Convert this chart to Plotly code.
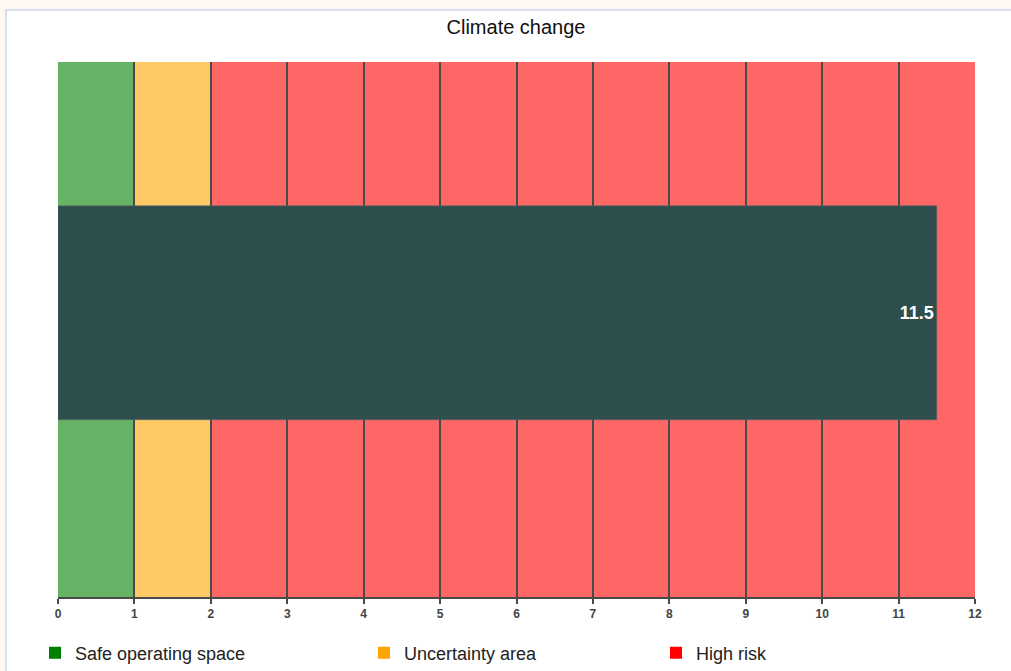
import plotly.graph_objects as go

# Data
title = "Climate change"
value = 11.5
value_label = "11.5"
band_names = ["Safe operating space", "Uncertainty area", "High risk"]
band_starts = [0, 1, 2]
band_ends = [1, 2, 12]
band_colors = ["rgba(0,128,0,0.6)", "rgba(255,165,0,0.6)", "rgba(255,0,0,0.6)"]
legend_colors = ["#008000", "#FFA500", "#FF0000"]
tick_values = list(range(0, 13))

W, H = 1011, 671
ml, mt = 58, 62
mr = W - 975
mb = H - 597
pw, ph = W - ml - mr, H - mt - mb

fig = go.Figure()

# Main value bar
fig.add_trace(go.Bar(
    x=[value], y=[0.531], base=[0], width=[0.4], orientation="h",
    marker=dict(color="#2f4f4f", line=dict(color="#5a6a6a", width=0.5)),
    text=[value_label], textposition="inside", insidetextanchor="end",
    textfont=dict(color="white", size=18, family="Liberation Sans, Arial", weight="bold"),
    showlegend=False, hoverinfo="x",
))

# Legend entries (separate legends placed at their own positions)
legend_x_px = [35, 364, 656]
legend_keys = ["legend", "legend2", "legend3"]
for name, col, key in zip(band_names, legend_colors, legend_keys):
    fig.add_trace(go.Scatter(
        x=[None], y=[None], mode="markers", name=name,
        marker=dict(symbol="square", size=12, color=col),
        legend=key, showlegend=True,
    ))

# Background bands (drawn below the grid lines)
shapes = []
for s, e, c in zip(band_starts, band_ends, band_colors):
    shapes.append(dict(type="rect", xref="x", yref="paper", x0=s, x1=e, y0=0, y1=1,
                       fillcolor=c, line=dict(width=0), layer="below"))
# Card background
card_x0 = (6 - ml) / pw
card_y1 = (H - mb - 10) / ph
shapes.insert(0, dict(type="rect", xref="paper", yref="paper", x0=card_x0, x1=1.2,
                      y0=-0.3, y1=card_y1, fillcolor="white",
                      line=dict(color="#c9d6ea", width=1.5), layer="below"))

leg_y = (H - mb - 653) / ph
legend_common = dict(orientation="h", yanchor="middle", xanchor="left", y=leg_y,
                     font=dict(size=18, color="#222", family="Liberation Sans, Arial"),
                     bgcolor="rgba(0,0,0,0)", itemclick=False)

fig.update_layout(
    width=W, height=H,
    margin=dict(l=ml, r=mr, t=mt, b=mb, autoexpand=False),
    paper_bgcolor="#fff8f0",
    plot_bgcolor="rgba(0,0,0,0)",
    title=dict(text=title, x=(516 - ml) / pw, xref="paper", xanchor="center",
               y=1 - 27 / H, yanchor="middle",
               font=dict(size=20, color="#111", family="Liberation Sans, Arial")),
    shapes=shapes,
    xaxis=dict(range=[0, 12], tickvals=tick_values, showgrid=True, gridcolor="#4a4a4a",
               gridwidth=1.5, zeroline=False, showline=True, linecolor="#4a4a4a", linewidth=1.5,
               ticks="outside", ticklen=5, tickcolor="#4a4a4a", tickwidth=1.5,
               tickfont=dict(size=12, color="#444", family="Liberation Sans, Arial", weight="bold"),
               fixedrange=True),
    yaxis=dict(range=[0, 1], visible=False, fixedrange=True),
    legend=dict(x=(legend_x_px[0] - ml) / pw, **legend_common),
    legend2=dict(x=(legend_x_px[1] - ml) / pw, **legend_common),
    legend3=dict(x=(legend_x_px[2] - ml) / pw, **legend_common),
    bargap=0,
)

fig.write_html(
    "out.html",
    config={"displayModeBar": False},
    post_script="document.body.style.margin='0';document.body.style.background='#fff8f0';document.body.style.overflow='hidden';",
)
